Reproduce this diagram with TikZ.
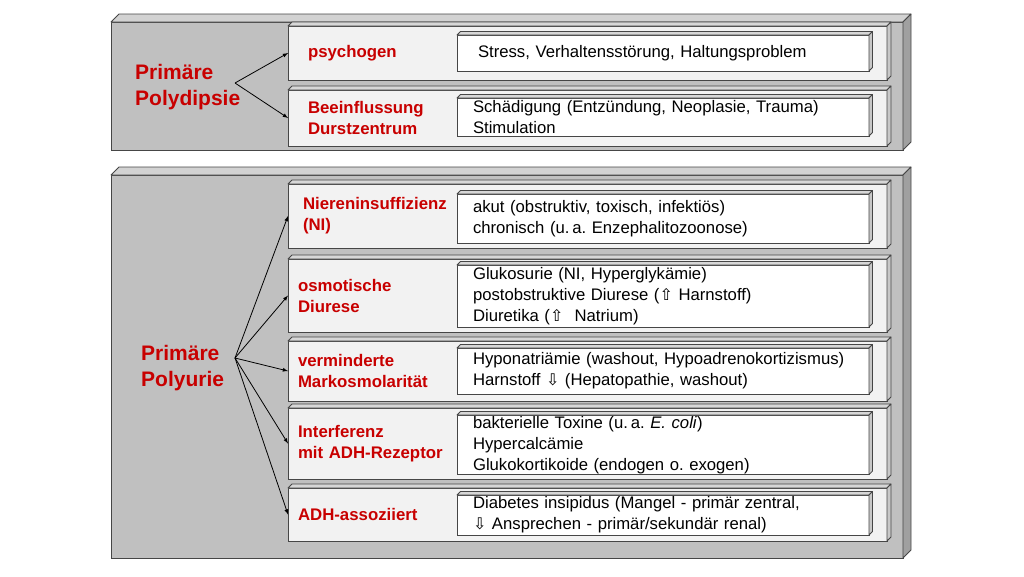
\documentclass[tikz,border=0pt]{standalone}
\usepackage{fontspec}
\setmainfont{Liberation Sans}
\newfontfamily\arrowfont{DejaVu Sans}
\frenchspacing

\definecolor{redtxt}{RGB}{200,0,0}
\definecolor{edgegray}{RGB}{70,70,70}
\definecolor{panelgray}{RGB}{192,192,192}
\definecolor{paneltop}{RGB}{210,210,210}
\definecolor{panelside}{RGB}{160,160,160}
\definecolor{catfill}{RGB}{242,242,242}
\definecolor{cattop}{RGB}{215,215,215}
\definecolor{catside}{RGB}{200,200,200}

\newcommand{\arrUp}{{\arrowfont\fontsize{16}{16}\selectfont ⇧}}
\newcommand{\arrDown}{{\arrowfont\fontsize{16}{16}\selectfont ⇩}}

\tikzset{
  panel/.style={draw=edgegray, fill=panelgray, line width=1pt, anchor=north west,
    minimum width=792pt, inner sep=0pt, outer sep=0pt},
  catbox/.style={draw=edgegray, fill=catfill, line width=1pt, anchor=north west,
    text width=579pt, inner xsep=10pt, inner ysep=1pt, outer sep=0pt, align=left,
    text=redtxt, font=\bfseries\fontsize{16.8}{21}\selectfont},
  txtbox/.style={draw=edgegray, fill=white, line width=1pt, anchor=north west,
    text width=380pt, inner xsep=16pt, inner ysep=1pt, outer sep=0pt, align=left,
    font=\fontsize{16.7}{21}\selectfont},
  mainlabel/.style={anchor=west, align=left, text=redtxt, inner sep=0pt,
    font=\bfseries\fontsize{21}{26}\selectfont},
  arr/.style={-latex, line width=0.8pt},
  face/.style={draw=edgegray, line width=0.8pt, line join=round}
}

\begin{document}
\begin{tikzpicture}[x=1pt, y=-1pt]
\useasboundingbox (0,0) rectangle (1024,576);

% panels
\node[panel, minimum height=128pt] (dipsPanel) at (111,22) {};
\node[panel, minimum height=383pt] (uriePanel) at (111,175) {};

\node[mainlabel] (dipsLabel) at (135,87) {Primäre\\Polydipsie};
\node[mainlabel] (urieLabel) at (141,368) {Primäre\\Polyurie};

% Polydipsie
\node[catbox, minimum height=54pt, inner xsep=20pt, text width=559pt] (catPsy) at (288,26) {psychogen};
\node[catbox, minimum height=56pt, inner xsep=20pt, text width=559pt] (catBee) at (288,90) {Beeinflussung\\Durstzentrum};
\node[txtbox, minimum height=36pt, inner xsep=21pt, text width=370pt] (txtPsy) at (457,35) {Stress, Verhaltensstörung, Haltungsproblem};
\node[txtbox, minimum height=38pt] (txtBee) at (457,98) {Schädigung (Entzündung, Neoplasie, Trauma)\\Stimulation};

% Polyurie
\node[catbox, minimum height=64pt, inner xsep=15pt, text width=569pt] (catNie) at (288,184) {Niereninsuffizienz\\(NI)};
\node[catbox, minimum height=73pt] (catOsm) at (288,259) {osmotische\\Diurese};
\node[catbox, minimum height=60pt] (catVer) at (288,341) {verminderte\\Markosmolarität};
\node[catbox, minimum height=71pt] (catInt) at (288,408) {Interferenz\\mit ADH-Rezeptor};
\node[catbox, minimum height=53pt] (catAdh) at (288,488) {ADH-assoziiert};

\node[txtbox, minimum height=49pt] (txtNie) at (457,194) {akut (obstruktiv, toxisch, infektiös)\\chronisch (u.\,a. Enzephalitozoonose)};
\node[txtbox, minimum height=62pt] (txtOsm) at (457,265) {Glukosurie (NI, Hyperglykämie)\\postobstruktive Diurese (\arrUp{} Harnstoff)\\Diuretika (\arrUp{}\ \ Natrium)};
\node[txtbox, minimum height=46pt] (txtVer) at (457,348) {Hyponatriämie (washout, Hypoadrenokortizismus)\\Harnstoff \arrDown{} (Hepatopathie, washout)};
\node[txtbox, minimum height=59pt] (txtInt) at (457,415) {bakterielle Toxine (u.\,a. \textit{E. coli})\\Hypercalcämie\\Glukokortikoide (endogen o. exogen)};
\node[txtbox, minimum height=40pt] (txtAdh) at (457,495) {Diabetes insipidus (Mangel - primär zentral,\\\arrDown{} Ansprechen - primär/sekundär renal)};

% 3D faces
\foreach \n/\d/\t/\s in {dipsPanel/8/paneltop/panelside, uriePanel/8/paneltop/panelside,
    catPsy/4/cattop/catside, catBee/4/cattop/catside, catNie/4/cattop/catside,
    catOsm/4/cattop/catside, catVer/4/cattop/catside, catInt/4/cattop/catside,
    catAdh/4/cattop/catside,
    txtPsy/3.5/cattop/catside, txtBee/3.5/cattop/catside, txtNie/3.5/cattop/catside,
    txtOsm/3.5/cattop/catside, txtVer/3.5/cattop/catside, txtInt/3.5/cattop/catside,
    txtAdh/3.5/cattop/catside} {
  \filldraw[face, fill=\t] (\n.north west) -- ++(\d,-\d) -- ([shift={(\d,-\d)}]\n.north east) -- (\n.north east) -- cycle;
  \filldraw[face, fill=\s] (\n.north east) -- ([shift={(\d,-\d)}]\n.north east) -- ([shift={(\d,-\d)}]\n.south east) -- (\n.south east) -- cycle;
}

% arrows
\coordinate (dipsFork) at (235,83);
\coordinate (urieFork) at (235,358);
\foreach \c in {catPsy, catBee}
  \draw[arr] (dipsFork) -- (\c.west);
\foreach \c in {catNie, catOsm, catVer, catInt, catAdh}
  \draw[arr] (urieFork) -- (\c.west);
\end{tikzpicture}
\end{document}
